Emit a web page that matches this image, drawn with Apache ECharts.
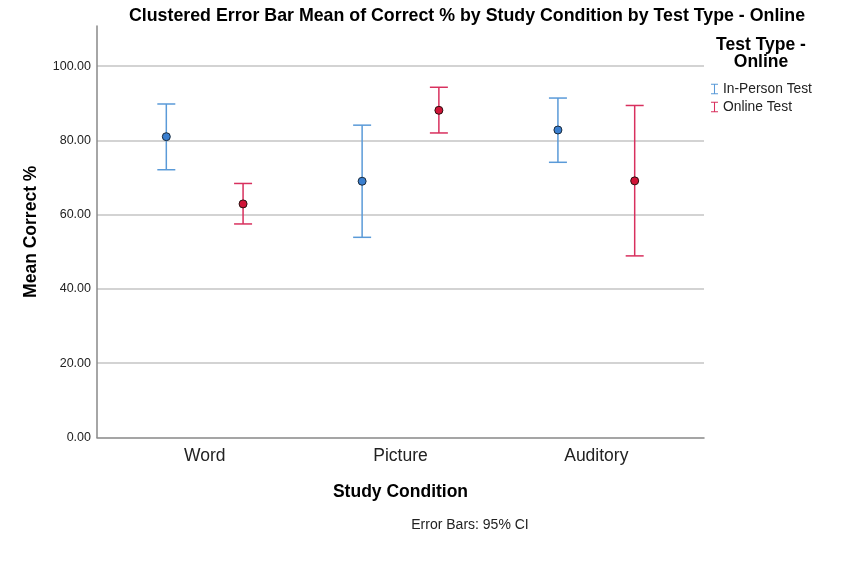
<!DOCTYPE html>
<html>
<head>
<meta charset="utf-8">
<script src="https://cdn.jsdelivr.net/npm/echarts@6/dist/echarts.min.js"></script>
<style>html,body{margin:0;padding:0;background:#fff;}#c{width:841px;height:565px;}</style>
</head>
<body>
<div id="c"></div>
<script>
const categories = ['Word', 'Picture', 'Auditory'];
const seriesNames = ['In-Person Test', 'Online Test'];
const inPersonMean = [81.0, 69.0, 82.8];
const inPersonLow = [72.1, 53.9, 74.1];
const inPersonHigh = [89.8, 84.1, 91.4];
const onlineMean = [62.9, 88.1, 69.1];
const onlineLow = [57.5, 82.0, 48.9];
const onlineHigh = [68.4, 94.3, 89.4];
const yTicks = [0, 20, 40, 60, 80, 100];

const FONT = '"Liberation Sans", Arial, sans-serif';
const barColors = ['#5a9ad8', '#d8305e'];
const dotColors = ['#3a7fd0', '#d01437'];
const offsets = [-0.196, 0.196];

function ebData(low, high, k) {
  return categories.map((c, i) => [i + 1 + offsets[k], low[i], high[i]]);
}
function meanData(mean, k) {
  return categories.map((c, i) => [i + 1 + offsets[k], mean[i]]);
}
function renderEB(params, api) {
  const x = api.value(0);
  const lo = api.coord([x, api.value(1)]);
  const hi = api.coord([x, api.value(2)]);
  const hw = 9;
  const style = { stroke: api.visual('color'), lineWidth: 1.5, fill: null };
  return {
    type: 'group',
    children: [
      { type: 'line', shape: { x1: lo[0], y1: lo[1], x2: hi[0], y2: hi[1] }, style },
      { type: 'line', shape: { x1: hi[0] - hw, y1: hi[1], x2: hi[0] + hw, y2: hi[1] }, style },
      { type: 'line', shape: { x1: lo[0] - hw, y1: lo[1], x2: lo[0] + hw, y2: lo[1] }, style }
    ]
  };
}
const iconI = 'path://M0,0H8V1.2H4.6V10.8H8V12H0V10.8H3.4V1.2H0Z';

const chart = echarts.init(document.getElementById('c'), null, { renderer: 'canvas' });
chart.setOption({
  animation: false,
  backgroundColor: '#ffffff',
  textStyle: { fontFamily: FONT },
  title: {
    text: 'Clustered Error Bar Mean of Correct % by Study Condition by Test Type - Online',
    left: 462, top: 2, textAlign: 'center',
    textStyle: { fontFamily: FONT, fontSize: 17.8, fontWeight: 'bold', color: '#000' }
  },
  legend: {
    orient: 'vertical', left: 706, top: 77, itemWidth: 7, itemHeight: 11, itemGap: 4,
    textStyle: { fontFamily: FONT, fontSize: 13.8, color: '#222' },
    data: [
      { name: seriesNames[0], icon: iconI, itemStyle: { color: barColors[0] } },
      { name: seriesNames[1], icon: iconI, itemStyle: { color: barColors[1] } }
    ]
  },
  grid: { left: 97, right: 137, top: 26, bottom: 127.5 },
  xAxis: {
    type: 'value', min: 0.45, max: 3.55,
    axisLine: { show: true, lineStyle: { color: '#888', width: 1.5 } },
    axisTick: { show: false },
    splitLine: { show: false },
    axisLabel: {
      customValues: [1, 2, 3], margin: 10,
      formatter: v => categories[Math.round(v) - 1] || '',
      fontFamily: FONT, fontSize: 17.5, color: '#222'
    },
    name: 'Study Condition', nameLocation: 'middle', nameGap: 46,
    nameTextStyle: { fontFamily: FONT, fontSize: 17.5, fontWeight: 'bold', color: '#000' }
  },
  yAxis: {
    type: 'value', min: 0, max: 110.8, interval: 20,
    axisLine: { show: true, lineStyle: { color: '#888', width: 1.5 } },
    axisTick: { show: false },
    splitLine: { show: true, showMinLine: false, showMaxLine: false, lineStyle: { color: '#c4c4c4', width: 1.5 } },
    axisLabel: {
      margin: 6,
      formatter: v => (yTicks.indexOf(v) >= 0 ? v.toFixed(2) : ''),
      fontFamily: FONT, fontSize: 12.5, color: '#222'
    },
    name: 'Mean Correct %', nameLocation: 'middle', nameGap: 57,
    nameTextStyle: { fontFamily: FONT, fontSize: 17.5, fontWeight: 'bold', color: '#000' }
  },
  graphic: [
    { type: 'text', x: 761, y: 37, style: { text: 'Test Type -\nOnline', fontFamily: FONT, fontSize: 17.5, fontWeight: 'bold', fill: '#000', align: 'center', lineHeight: 17 } },
    { type: 'text', x: 470, y: 518, style: { text: 'Error Bars: 95% CI', fontFamily: FONT, fontSize: 14, fill: '#222', align: 'center' } }
  ],
  series: [
    { name: seriesNames[0], type: 'custom', renderItem: renderEB, data: ebData(inPersonLow, inPersonHigh, 0), itemStyle: { color: barColors[0] }, encode: { x: 0, y: [1, 2] }, z: 2 },
    { name: seriesNames[1], type: 'custom', renderItem: renderEB, data: ebData(onlineLow, onlineHigh, 1), itemStyle: { color: barColors[1] }, encode: { x: 0, y: [1, 2] }, z: 2 },
    { name: seriesNames[0], type: 'scatter', data: meanData(inPersonMean, 0), symbolSize: 8, itemStyle: { color: dotColors[0], borderColor: '#1a2a3a', borderWidth: 1, opacity: 1 }, z: 3 },
    { name: seriesNames[1], type: 'scatter', data: meanData(onlineMean, 1), symbolSize: 8, itemStyle: { color: dotColors[1], borderColor: '#2a1010', borderWidth: 1, opacity: 1 }, z: 3 }
  ]
});
</script>
</body>
</html>
